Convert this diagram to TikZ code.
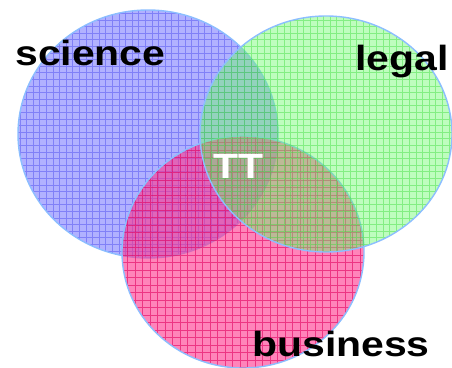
\documentclass[tikz,border=0pt]{standalone}
\usepackage{fontspec}
\setmainfont{Liberation Sans}
\usetikzlibrary{positioning}

\definecolor{sciblue}{RGB}{100,100,255}
\definecolor{scigrid}{RGB}{80,80,240}
\definecolor{legreen}{RGB}{110,250,110}
\definecolor{leggrid}{RGB}{60,220,60}
\definecolor{buspink}{RGB}{255,50,140}
\definecolor{busgrid}{RGB}{225,0,95}
\definecolor{rim}{RGB}{140,190,255}

\begin{document}
\begin{tikzpicture}[x=1pt,y=-1pt,
        ring/.style={draw=rim,line width=1.4pt},
        mesh/.style={line width=0.35pt,step=6.6pt},
        word/.style={font=\bfseries\fontsize{35}{35}\selectfont,xscale=1.17,
          inner sep=0pt,anchor=base west}]
      \useasboundingbox (0,0) rectangle (452,367);

      % science
      \begin{scope}[opacity=0.5]
        \clip (148,134) ellipse [x radius=130,y radius=124];
        \fill[sciblue] (148,134) ellipse [x radius=130,y radius=124];
        \draw[scigrid,mesh] (10,5) grid (290,270);
      \end{scope}
      \draw[ring] (148,134) ellipse [x radius=130,y radius=124];

      % business
      \begin{scope}[opacity=0.6]
        \clip (243,252) ellipse [x radius=121,y radius=116];
        \fill[buspink] (243,252) ellipse [x radius=121,y radius=116];
        \draw[busgrid,mesh,line width=0.5pt,step=7.5pt] (115,130) grid (370,370);
      \end{scope}
      \draw[ring] (243,252) ellipse [x radius=121,y radius=116];

      % legal
      \begin{scope}[opacity=0.45]
        \clip (326,134) ellipse [x radius=126,y radius=118];
        \fill[legreen] (326,134) ellipse [x radius=126,y radius=118];
        \draw[leggrid,mesh] (195,10) grid (455,260);
      \end{scope}
      \draw[ring] (326,134) ellipse [x radius=126,y radius=118];

      \node[word] (sci) at (15,65)  {science};
      \node[word] (leg) at (355,70) {legal};
      \node[word] (bus) at (252,356) {business};
      \node[word,text=white] (tt) at (213,178) {TT};
\end{tikzpicture}
\end{document}
